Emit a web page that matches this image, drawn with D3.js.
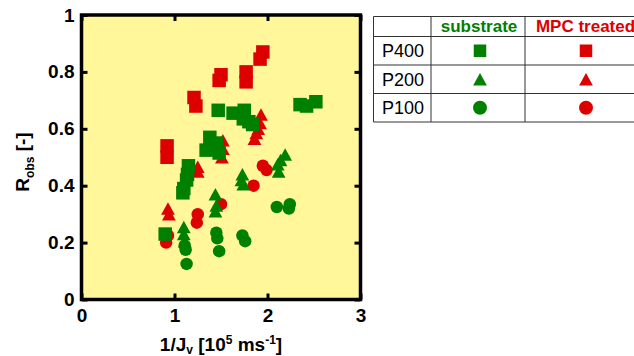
<!DOCTYPE html>
<html lang="en">
  <head>
    <meta charset="UTF-8" />
    <title>Robs vs 1/Jv</title>
    <style>
      body { margin: 0; background: #fff; }
      svg { display: block; font-family: "Liberation Sans", Arial, sans-serif; }
    </style>
  </head>
  <body>
    <script src="https://cdn.jsdelivr.net/npm/d3@7"></script>
    <script>

    var subP400 = [[0.90,0.23],[1.15,0.47],[1.14,0.44],[1.13,0.42],[1.10,0.39],[1.09,0.375],
                   [1.38,0.57],[1.45,0.55],[1.34,0.525],[1.43,0.53],[1.48,0.515],[1.47,0.665],
                   [1.63,0.655],[1.75,0.665],[1.74,0.635],[1.80,0.625],[1.84,0.615],
                   [2.35,0.685],[2.42,0.68],[2.52,0.695]];
    var subP200 = [[1.10,0.255],[1.10,0.23],[1.11,0.205],[1.44,0.37],[1.45,0.33],[1.44,0.31],
                   [1.73,0.44],[1.72,0.42],[1.74,0.405],[2.19,0.51],[2.14,0.49],[2.11,0.475],[2.12,0.45]];
    var subP100 = [[1.11,0.19],[1.12,0.175],[1.13,0.125],[1.45,0.235],[1.46,0.215],[1.48,0.17],
                   [1.73,0.225],[1.76,0.205],[2.10,0.325],[2.24,0.335],[2.23,0.32]];
    var mpcP400 = [[0.92,0.54],[0.92,0.50],[1.21,0.71],[1.23,0.68],[1.50,0.79],[1.48,0.77],
                   [1.77,0.80],[1.77,0.765],[1.95,0.87],[1.92,0.845]];
    var mpcP200 = [[0.93,0.32],[0.94,0.30],[1.25,0.467],[1.25,0.45],[1.52,0.56],[1.52,0.53],[1.51,0.50],
                   [1.93,0.65],[1.92,0.62],[1.90,0.60],[1.88,0.585],[1.86,0.565]];
    var mpcP100 = [[0.93,0.225],[0.91,0.20],[1.25,0.30],[1.24,0.27],[1.50,0.335],[1.85,0.40],
                   [1.95,0.47],[1.99,0.455]];

    var xTicks = [0, 1, 2, 3];
    var yTicks = [0, 0.2, 0.4, 0.6, 0.8, 1];
    var yTickLabels = ["0", "0.2", "0.4", "0.6", "0.8", "1"];
    var rowLabels = ["P400", "P200", "P100"];
    var colLabels = ["substrate", "MPC treated"];

    var green = "#008000",
        red = "#dd0000";

    var w = 634, h = 356;

    var svg = d3.select("body")
                .append("svg")
                .attr("width", w)
                .attr("height", h);

    // scales
    var xScale = d3.scaleLinear().domain([0, 3]).range([81.5, 360.5]);
    var yScale = d3.scaleLinear().domain([0, 1]).range([299.5, 15]);

    // plot background
    svg.append("rect")
       .attr("x", xScale(0))
       .attr("y", yScale(1))
       .attr("width", xScale(3) - xScale(0))
       .attr("height", yScale(0) - yScale(1))
       .attr("fill", "#fff79a");

    // marker shapes
    function markerPath(shape, s) {
      if (shape == "square") {
        return "M" + (-s/2) + "," + (-s/2) + "h" + s + "v" + s + "h" + (-s) + "Z";
      }
      if (shape == "triangle") {
        var tw = s * 1.1, th = s;
        return "M0," + (-th/2) + "L" + (tw/2) + "," + (th/2) + "L" + (-tw/2) + "," + (th/2) + "Z";
      }
      var r = s / 2;
      return "M" + r + ",0A" + r + "," + r + " 0 1,1 " + (-r) + ",0A" + r + "," + r + " 0 1,1 " + r + ",0Z";
    }

    var series = [
      { data: mpcP100, shape: "circle", color: red, size: 12.5 },
      { data: mpcP200, shape: "triangle", color: red, size: 12.5 },
      { data: mpcP400, shape: "square", color: red, size: 13.5 },
      { data: subP100, shape: "circle", color: green, size: 12.5 },
      { data: subP200, shape: "triangle", color: green, size: 12.5 },
      { data: subP400, shape: "square", color: green, size: 13.5 }
    ];

    series.forEach(function(s) {
      svg.append("g")
         .selectAll("path")
         .data(s.data)
         .enter()
         .append("path")
         .attr("transform", function(d) { return "translate(" + xScale(d[0]) + "," + yScale(d[1]) + ")"; })
         .attr("d", markerPath(s.shape, s.size))
         .attr("fill", s.color);
    });

    // axes (inward ticks on all four sides)
    function styleAxis(g) {
      g.select(".domain").remove();
      g.selectAll(".tick line").attr("stroke", "#000").attr("stroke-width", 3);
      g.selectAll(".tick text")
       .attr("fill", "#000")
       .style("font-size", "19px")
       .style("font-weight", "bold")
       .style("font-family", "'Liberation Sans', Arial, sans-serif");
    }

    svg.append("g")
       .attr("transform", "translate(0," + yScale(0) + ")")
       .call(d3.axisBottom(xScale).tickValues(xTicks).tickFormat(d3.format("d"))
               .tickSizeInner(-6).tickSizeOuter(0).tickPadding(9))
       .call(styleAxis);

    svg.append("g")
       .attr("transform", "translate(0," + yScale(1) + ")")
       .call(d3.axisTop(xScale).tickValues(xTicks).tickFormat("")
               .tickSizeInner(-6).tickSizeOuter(0))
       .call(styleAxis);

    svg.append("g")
       .attr("transform", "translate(" + xScale(0) + ",0)")
       .call(d3.axisLeft(yScale).tickValues(yTicks)
               .tickFormat(function(d, i) { return yTickLabels[i]; })
               .tickSizeInner(-6).tickSizeOuter(0).tickPadding(7))
       .call(styleAxis);

    svg.append("g")
       .attr("transform", "translate(" + xScale(3) + ",0)")
       .call(d3.axisRight(yScale).tickValues(yTicks).tickFormat("")
               .tickSizeInner(-6).tickSizeOuter(0))
       .call(styleAxis);

    // frame
    svg.append("rect")
       .attr("x", xScale(0))
       .attr("y", yScale(1))
       .attr("width", xScale(3) - xScale(0))
       .attr("height", yScale(0) - yScale(1))
       .attr("fill", "none")
       .attr("stroke", "#000")
       .attr("stroke-width", 3.5);

    // x axis title
    var xt = svg.append("text")
       .attr("x", 221)
       .attr("y", 350.5)
       .attr("text-anchor", "middle")
       .style("font-size", "19px")
       .style("font-weight", "bold");
    xt.append("tspan").text("1/J");
    xt.append("tspan").attr("dy", 3).style("font-size", "12px").text("v");
    xt.append("tspan").attr("dy", -3).text(" [10");
    xt.append("tspan").attr("dy", -7).style("font-size", "12px").text("5");
    xt.append("tspan").attr("dy", 7).text(" ms");
    xt.append("tspan").attr("dy", -7).style("font-size", "12px").text("-1");
    xt.append("tspan").attr("dy", 7).text("]");

    // y axis title
    var yt = svg.append("text")
       .attr("transform", "translate(28.5,162) rotate(-90)")
       .attr("text-anchor", "middle")
       .style("font-size", "19px")
       .style("font-weight", "bold");
    yt.append("tspan").text("R");
    yt.append("tspan").attr("dy", 5).style("font-size", "12px").text("obs");
    yt.append("tspan").attr("dy", -5).text(" [-]");

    // legend table
    var colX = [373.5, 431, 525, 647];
    var rowY = [16.5, 36.5, 65, 93.5, 122];
    var legend = svg.append("g");

    rowY.forEach(function(y) {
      legend.append("line")
            .attr("x1", colX[0]).attr("x2", colX[3])
            .attr("y1", y).attr("y2", y)
            .attr("stroke", "#333").attr("stroke-width", 1);
    });
    colX.forEach(function(x) {
      legend.append("line")
            .attr("x1", x).attr("x2", x)
            .attr("y1", rowY[0]).attr("y2", rowY[4])
            .attr("stroke", "#333").attr("stroke-width", 1);
    });

    colLabels.forEach(function(t, i) {
      legend.append("text")
            .attr("x", (colX[i + 1] + colX[i + 2]) / 2 + (i == 0 ? 1 : -0.5))
            .attr("y", 31.5)
            .attr("text-anchor", "middle")
            .attr("fill", i == 0 ? green : red)
            .style("font-size", "17px")
            .style("font-weight", "bold")
            .text(t);
    });

    var shapes = ["square", "triangle", "circle"];
    rowLabels.forEach(function(t, i) {
      var cy = (rowY[i + 1] + rowY[i + 2]) / 2;
      legend.append("text")
            .attr("x", 403)
            .attr("y", cy + 6.5)
            .attr("text-anchor", "middle")
            .attr("fill", "#000")
            .style("font-size", "18px")
            .text(t);
      [green, red].forEach(function(c, j) {
        legend.append("path")
              .attr("transform", "translate(" + (j == 0 ? 480 : 586) + "," + cy + ")")
              .attr("d", markerPath(shapes[i], shapes[i] == "circle" ? 14 : 12.5))
              .attr("fill", c);
      });
    });

    </script>
  </body>
</html>
